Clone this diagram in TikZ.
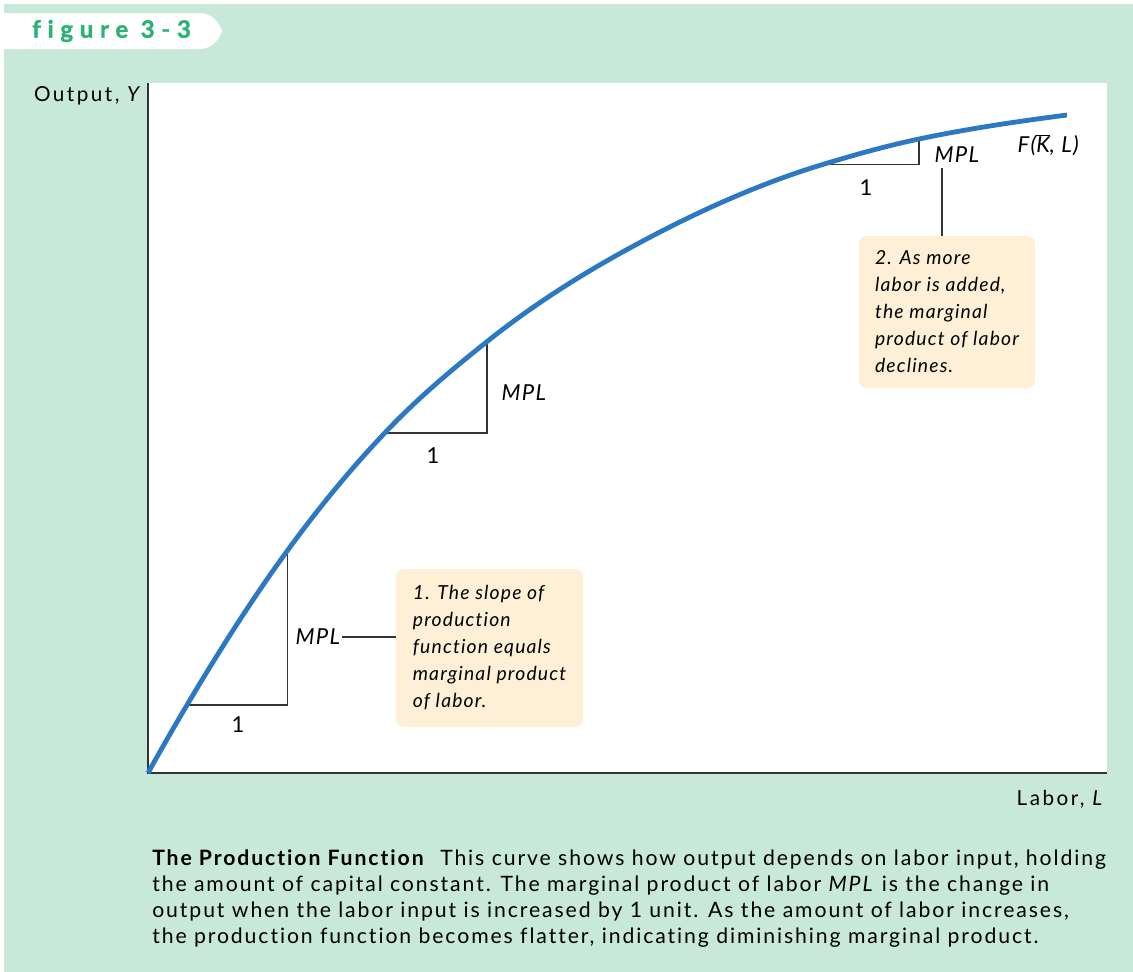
\documentclass[tikz,border=0pt]{standalone}
\usepackage{fontspec}
\setmainfont[LetterSpace=6, Ligatures=NoCommon]{Lato}
\newfontfamily\tabfont[LetterSpace=28, Ligatures=NoCommon, BoldFeatures={FakeBold=1.5}]{Lato}
\newfontfamily\axisfont[LetterSpace=12, Ligatures=NoCommon]{Lato}
\newfontfamily\capfont[LetterSpace=9, Ligatures=NoCommon]{Lato}
\usetikzlibrary{positioning}

\definecolor{panelgreen}{HTML}{C8E8DA}
\definecolor{curveblue}{HTML}{2D78C3}
\definecolor{notefill}{HTML}{FDF0D6}
\definecolor{tabgreen}{HTML}{2BB377}
\definecolor{inkgray}{HTML}{333333}

\begin{document}
\begin{tikzpicture}[x=0.75pt, y=-0.75pt,
  axis/.style={line width=1.5pt, color=inkgray},
  rise/.style={line width=1pt, color=inkgray},
  leader/.style={line width=1pt, color=inkgray},
  note/.style={rectangle, rounded corners=6pt, fill=notefill, align=left,
    font=\fontsize{14.5}{20.25}\selectfont\itshape},
  lbl/.style={inner sep=1pt, font=\fontsize{16.5}{19}\selectfont},
  mpl/.style={lbl, anchor=west, font=\fontsize{16.5}{19}\selectfont\itshape},
]
\useasboundingbox (0,0) rectangle (1133,972);

% panel, tab and plot area
\fill[white] (0,0) rectangle (1133,972);
\fill[panelgreen] (4,4) rectangle (1133,972);
\fill[white, rounded corners=17pt] (-40,13) rectangle (222,49);
\fill[white] (148,83) rectangle (1107,773);

\node[anchor=west, inner sep=0, text=tabgreen,
  font=\tabfont\bfseries\fontsize{18}{18}\selectfont]
(tab) at (32, 31)
{figure 3-3};

% axes
\coordinate (corner) at (148, 773);
\coordinate (ytop) at (148, 83);
\coordinate (xend) at (1107, 773);
\draw[axis] (ytop) -- (corner) -- (xend);

\node[anchor=base east, inner sep=0, font=\axisfont\fontsize{15.5}{18}\selectfont]
(ylabel) at (143, 101)
{Output, \textit{Y}};

\node[anchor=base east, inner sep=0, font=\axisfont\fontsize{15.5}{18}\selectfont]
(xlabel) at (1105, 805)
{Labor, \textit{L}};

% points on the curve
\coordinate (t1l) at (187, 705);
\coordinate (t1t) at (287.5, 550.5);
\coordinate (t2l) at (384.7, 433);
\coordinate (t2t) at (487, 341.6);
\coordinate (mid) at (660, 232);
\coordinate (t3l) at (823, 164.4);
\coordinate (t3t) at (919, 139);
\coordinate (cend) at (1067, 115);

% slope triangles
\draw[rise] (t1l) -- (t1t |- t1l) -- (t1t);
\draw[rise] (t2l) -- (t2t |- t2l) -- (t2t);
\draw[rise] (t3l) -- (t3t |- t3l) -- (t3t);

% production function
\draw[curveblue, line width=3.6pt]
(corner) .. controls +(13,-23.4) and +(-13,21.9) .. (t1l)
 .. controls +(33.5,-56.5) and +(-33.5,45.9) .. (t1t)
 .. controls +(32.4,-44.4) and +(-32.4,34.2) .. (t2l)
 .. controls +(34.1,-36) and +(-34.1,27.2) .. (t2t)
 .. controls +(57.7,-46) and +(-57.7,29.8) .. (mid)
 .. controls +(54.3,-28) and +(-54.3,16.4) .. (t3l)
 .. controls +(32,-9.7) and +(-32,6.7) .. (t3t)
 .. controls +(49.3,-10.4) and +(-49.3,6.4) .. (cend);

\node[lbl] (one1) at (238, 725) {1};
\node[lbl] (one2) at (433, 456) {1};
\node[lbl] (one3) at (866, 188) {1};

\node[mpl] (mpl1) at (294, 637) {MPL};
\node[mpl] (mpl2) at (500, 393) {MPL};
\node[mpl] (mpl3) at (933, 155) {MPL};

\node[mpl]
(flabel) at (1016, 145)
{F(\(\overline{\mbox{\itshape K}}\), L)};

% notes
\node[note, minimum width=140.25pt, minimum height=118.5pt]
(note1) at (489.5, 648)
{1. The slope of\\ production\\ function equals\\ marginal product\\ of labor.};

\node[note, minimum width=132pt, minimum height=114pt]
(note2) at (947, 312)
{2. As more\\ labor is added,\\ the marginal\\ product of labor\\ declines.};

\draw[leader] (mpl1.east) -- (mpl1.east -| note1.west);
\coordinate (lead2) at (942, 168);
\draw[leader] (lead2) -- (lead2 |- note2.north);

% caption
\node[anchor=north west, inner sep=0, align=left,
  font=\capfont\fontsize{15.9}{19.5}\selectfont]
(caption) at (152, 849)
{\textbf{The Production Function}\ \ This curve shows how output depends on labor input, holding\\
the amount of capital constant. The marginal product of labor \textit{MPL} is the change in\\
output when the labor input is increased by 1 unit. As the amount of labor increases,\\
the production function becomes flatter, indicating diminishing marginal product.};

\end{tikzpicture}
\end{document}
